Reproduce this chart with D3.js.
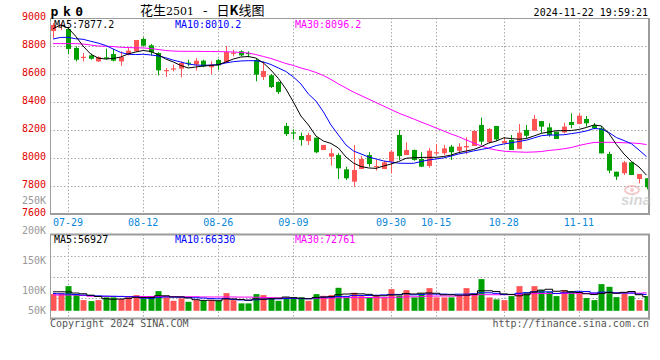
<!DOCTYPE html>
<html><head><meta charset="utf-8">
<script src="https://cdn.jsdelivr.net/npm/d3@7"></script>
<style>body{margin:0;background:#fff}svg{display:block}</style>
</head><body>
<svg id="chart" width="660" height="360"></svg>
<script>
const dates = ["07-25","07-26","07-29","07-30","07-31","08-01","08-02","08-05","08-06","08-07","08-08","08-09","08-12","08-13","08-14","08-15","08-16","08-19","08-20","08-21","08-22","08-23","08-26","08-27","08-28","08-29","08-30","09-02","09-03","09-04","09-05","09-06","09-09","09-10","09-11","09-12","09-13","09-18","09-19","09-20","09-23","09-24","09-25","09-26","09-27","09-30","10-08","10-09","10-10","10-11","10-14","10-15","10-16","10-17","10-18","10-21","10-22","10-23","10-24","10-25","10-28","10-29","10-30","10-31","11-01","11-04","11-05","11-06","11-07","11-08","11-11","11-12","11-13","11-14","11-15","11-18","11-19","11-20","11-21","11-22"];
const opens = [8907,8948,8921,8786,8719,8733,8690,8719,8743,8690,8743,8762,8850,8805,8750,8624,8636,8638,8681,8667,8695,8648,8700,8679,8745,8762,8750,8700,8579,8591,8543,8229,8183,8157,8121,8145,8057,8010,8021,7919,7831,7921,8021,7940,7921,7974,8164,8021,8057,7993,7943,8038,8034,8081,8052,8076,8086,8236,8112,8229,8105,8129,8064,8200,8195,8264,8219,8188,8183,8257,8243,8279,8236,8212,8029,7902,7891,7969,7850,7855];
const highs = [8964,8966,8929,8798,8750,8745,8726,8781,8779,8762,8791,8843,8862,8814,8755,8643,8667,8690,8702,8714,8702,8690,8709,8800,8774,8769,8762,8707,8690,8600,8548,8250,8205,8181,8181,8145,8093,8069,8034,7938,8093,8014,8041,7986,7979,8057,8200,8112,8060,8041,8071,8100,8093,8093,8105,8148,8200,8288,8214,8229,8148,8164,8243,8236,8307,8264,8248,8188,8252,8319,8319,8300,8250,8229,8045,7902,7979,7969,7886,7855];
const lows = [8857,8914,8743,8690,8690,8702,8686,8702,8690,8659,8733,8762,8798,8733,8590,8579,8619,8576,8655,8624,8648,8600,8629,8679,8726,8726,8719,8548,8557,8500,8457,8157,8133,8088,8093,8034,8057,7945,7850,7843,7795,7921,7938,7910,7921,7891,7986,8021,7980,7935,7931,8021,8021,7986,8034,8026,8086,8093,8105,8121,8105,8057,8064,8140,8195,8176,8152,8136,8176,8212,8243,8224,8205,8033,7891,7843,7879,7879,7819,7776];
const closes = [8950,8952,8779,8702,8723,8709,8721,8709,8695,8721,8767,8843,8802,8755,8626,8628,8640,8679,8678,8695,8655,8667,8662,8757,8752,8733,8745,8595,8621,8507,8471,8171,8180,8129,8164,8041,8093,8034,7926,7855,7914,7993,7957,7943,7969,8045,8014,8057,7986,7938,8052,8041,8069,8041,8081,8086,8193,8117,8207,8133,8121,8057,8181,8159,8279,8224,8164,8136,8224,8236,8302,8248,8212,8033,7910,7867,7969,7879,7886,7791];
const ma5 = [8923,8950,8929,8871,8800,8743,8714,8707,8711,8721,8743,8757,8768,8761,8738,8707,8686,8661,8643,8650,8657,8661,8666,8686,8707,8721,8725,8714,8679,8629,8568,8493,8400,8300,8236,8157,8121,8104,8071,8007,7964,7939,7929,7926,7943,7957,7975,7998,8002,8004,8005,8005,8011,8021,8039,8050,8061,8081,8107,8121,8144,8139,8134,8139,8157,8176,8186,8195,8195,8196,8204,8218,8236,8229,8175,8096,8029,7975,7936,7877];
const ma10 = [8850,8861,8862,8852,8848,8834,8821,8804,8779,8754,8741,8739,8741,8736,8729,8716,8699,8686,8671,8664,8662,8664,8666,8679,8688,8693,8695,8695,8686,8668,8643,8618,8579,8529,8457,8407,8329,8236,8164,8093,8050,8029,8007,7993,7979,7971,7963,7962,7962,7975,7986,7993,8001,8014,8029,8039,8051,8061,8071,8089,8100,8109,8118,8127,8143,8159,8164,8164,8166,8174,8182,8193,8211,8207,8182,8146,8125,8102,8057,8010];
const ma30 = [8817,8817,8817,8817,8814,8807,8800,8798,8796,8791,8789,8787,8786,8782,8775,8768,8764,8762,8762,8762,8761,8761,8760,8759,8757,8754,8750,8739,8725,8711,8693,8675,8661,8643,8629,8611,8589,8561,8529,8500,8471,8446,8421,8396,8371,8346,8321,8300,8279,8257,8236,8214,8193,8171,8152,8129,8107,8086,8068,8057,8049,8045,8043,8041,8043,8046,8054,8059,8066,8075,8089,8101,8111,8112,8112,8111,8109,8107,8104,8096];
const volumes = [67600,70500,100000,63600,43300,39300,43300,54300,54300,47400,54300,63600,50200,56700,79800,54300,40500,50200,36500,43300,40500,43300,40500,71700,43300,30000,30000,67600,63600,52700,40500,54300,54300,54300,40500,67600,60800,63600,93200,54300,72900,59500,54300,63600,54300,87900,60800,83800,54300,70500,91900,54300,54300,54300,60800,91900,70500,128400,54300,46200,43300,59500,100000,75700,100000,83800,77000,59500,83800,79800,70500,51400,43300,108100,97200,55500,70500,59500,43300,59500];
const volMa5 = [77000,77000,76500,72000,69000,63300,57900,48800,46900,47700,50700,54800,54000,54400,60900,60900,56300,56300,52300,45000,42200,42800,40800,47900,47900,45800,43100,48500,46900,48800,50900,55700,53100,51200,48800,54200,55500,57400,65100,67900,69000,68700,66800,60900,60900,63900,64200,70100,68200,71500,72300,71000,65100,65100,63100,63100,66400,81200,81200,78300,68500,66300,60700,64900,75700,83800,87300,79200,80800,76800,74100,69000,65800,70600,74100,71100,74900,78200,65200,56927];
const volMa10 = [70000,69000,68000,66000,64000,62000,60500,59500,59000,58400,57000,56300,51400,50700,54300,55800,55500,55100,53400,52900,51600,49500,48600,50100,46400,44000,42900,44700,47400,48300,48300,49400,50800,49100,48800,52500,55600,55200,58200,58300,61600,62100,62100,63000,64400,66400,66400,68500,64600,66200,68100,67600,67600,66600,67300,67700,68700,73100,73100,70700,65800,66400,70900,73100,77000,76200,76800,69900,72900,76200,79000,78200,72500,75700,75400,72600,72000,72000,67900,66330];
const volMa30 = [64000,64000,64000,64000,62000,59000,58500,58500,58000,58000,58000,58000,58000,58000,58000,57500,57500,57000,57000,57000,56000,56000,56000,56000,56000,55500,55500,55000,54000,53200,52300,51800,50200,49900,49800,50800,51400,51700,53000,53200,53800,53700,53800,54100,53200,54300,55000,56100,56700,57600,59300,59700,60200,59600,60200,62200,63600,65600,65300,65100,65200,65300,66900,67600,69600,70100,70600,70500,70200,71000,71000,70700,70300,71800,73200,72200,72500,71700,71300,72761];
const priceTicks = [9000,8800,8600,8400,8200,8000,7800,7600];
const dateTicks = ["07-29","08-12","08-26","09-09","09-30","10-15","10-28","11-11"];
const volTickValues = [250000,200000,150000,100000,50000];
const volTickLabels = ["250K","200K","150K","100K","50K"];
const priceMaLabels = ["MA5:7877.2","MA10:8010.2","MA30:8096.2"];
const volMaLabels = ["MA5:56927","MA10:66330","MA30:72761"];

const RED = "#ff5555", GREEN = "#00a000", GRID = "#a8a8a8", FRAME = "#9c9c9c";
const MONO = "'DejaVu Sans Mono', monospace";
const svg = d3.select("#chart");
const L = 50, R = 649, PT = 18, PB = 214, VT = 234.5, VB = 318.5;

const x = d3.scalePoint().domain(dates).range([53, 646.5]);
const y = d3.scaleLinear().domain([7600, 9000]).range([PB, PT]);
const vy = d3.scaleLinear().domain([0, 310000]).range([310.8, 234.3]);
const vLabelY = d3.scaleLinear().domain([100000, 250000]).range([290.5, 200]);

const defs = svg.append("defs");
defs.append("clipPath").attr("id","cp").append("rect").attr("x",L).attr("y",PT).attr("width",R-L).attr("height",PB-PT);
defs.append("clipPath").attr("id","cv").append("rect").attr("x",L).attr("y",VT).attr("width",R-L).attr("height",VB-VT);

const g = svg.append("g");
g.selectAll(".hg").data(priceTicks.slice(1,-1)).join("line")
  .attr("x1",L).attr("x2",R).attr("y1",d=>Math.round(y(d))+0.5).attr("y2",d=>Math.round(y(d))+0.5)
  .attr("stroke",GRID).attr("stroke-dasharray","1.5,2");
g.selectAll(".vg").data(dateTicks).join("line")
  .attr("x1",d=>Math.round(x(d))+0.5).attr("x2",d=>Math.round(x(d))+0.5).attr("y1",PT).attr("y2",PB)
  .attr("stroke",GRID).attr("stroke-dasharray","1.5,2");
const vgrid = d3.range(1,4).map(i => VT + (VB-VT)*i/4);
g.selectAll(".hvg").data(vgrid).join("line")
  .attr("x1",L).attr("x2",R).attr("y1",d=>Math.round(d)+0.5).attr("y2",d=>Math.round(d)+0.5)
  .attr("stroke",GRID).attr("stroke-dasharray","1.5,2");
g.selectAll(".vvg").data(dateTicks).join("line")
  .attr("x1",d=>Math.round(x(d))+0.5).attr("x2",d=>Math.round(x(d))+0.5).attr("y1",VT).attr("y2",VB)
  .attr("stroke",GRID).attr("stroke-dasharray","1.5,2");

const cg = svg.append("g").attr("clip-path","url(#cp)");
const idx = d3.range(dates.length);
const col = i => closes[i] >= opens[i] ? RED : GREEN;
cg.selectAll(".wick").data(idx).join("line")
  .attr("x1",i=>Math.round(x(dates[i]))+0.5).attr("x2",i=>Math.round(x(dates[i]))+0.5)
  .attr("y1",i=>y(highs[i])).attr("y2",i=>y(lows[i])).attr("stroke",col).attr("stroke-width",1);
cg.selectAll(".body").data(idx).join("rect")
  .attr("x",i=>Math.round(x(dates[i]))-2.5+0.5).attr("width",5)
  .attr("y",i=>y(Math.max(opens[i],closes[i])))
  .attr("height",i=>Math.max(1.2, Math.abs(y(opens[i])-y(closes[i]))))
  .attr("fill",col);

const line = arr => d3.line().x((d,i)=>x(dates[i])).y(d=>y(d))(arr);
cg.append("path").attr("d",line(ma30)).attr("fill","none").attr("stroke","#ff00ff").attr("stroke-width",1);
cg.append("path").attr("d",line(ma10)).attr("fill","none").attr("stroke","#0000ff").attr("stroke-width",1);
cg.append("path").attr("d",line(ma5)).attr("fill","none").attr("stroke","#000").attr("stroke-width",1);

const vg = svg.append("g").attr("clip-path","url(#cv)");
vg.selectAll(".vb").data(idx).join("rect")
  .attr("x",i=>Math.round(x(dates[i]))-3+0.5).attr("width",6)
  .attr("y",i=>vy(volumes[i])).attr("height",i=>vy(0)-vy(volumes[i]))
  .attr("fill",col);
const vline = arr => d3.line().curve(d3.curveStep).x((d,i)=>x(dates[i])).y(d=>vy(d))(arr);
vg.append("path").attr("d",vline(volMa30)).attr("fill","none").attr("stroke","#ff00ff").attr("stroke-width",1);
vg.append("path").attr("d",vline(volMa10)).attr("fill","none").attr("stroke","#0000ff").attr("stroke-width",1);
vg.append("path").attr("d",vline(volMa5)).attr("fill","none").attr("stroke","#000").attr("stroke-width",1);

const fr = svg.append("g").attr("stroke",FRAME).attr("fill","none");
fr.append("line").attr("x1",L).attr("x2",R+1).attr("y1",PT+0.5).attr("y2",PT+0.5);
fr.append("line").attr("x1",L+0.5).attr("x2",L+0.5).attr("y1",PT).attr("y2",PB+1);
fr.append("line").attr("x1",R).attr("x2",R).attr("y1",PT).attr("y2",PB+1).attr("stroke-width",2);
fr.append("line").attr("x1",L).attr("x2",R+1).attr("y1",PB).attr("y2",PB).attr("stroke-width",2);
fr.append("line").attr("x1",L).attr("x2",R+1).attr("y1",VT).attr("y2",VT).attr("stroke-width",2);
fr.append("line").attr("x1",L+0.5).attr("x2",L+0.5).attr("y1",VT).attr("y2",VB+1);
fr.append("line").attr("x1",R).attr("x2",R).attr("y1",VT).attr("y2",VB+1).attr("stroke-width",2);
fr.append("line").attr("x1",L).attr("x2",R+1).attr("y1",VB).attr("y2",VB).attr("stroke-width",2);

const wm = svg.append("g").attr("opacity",0.55);
wm.append("ellipse").attr("cx",632).attr("cy",190).attr("rx",7).attr("ry",4).attr("fill","none").attr("stroke","#f0a0a0").attr("stroke-width",2);
wm.append("circle").attr("cx",632).attr("cy",190).attr("r",2).attr("fill","#f0a0a0");
wm.append("text").attr("x",636).attr("y",205).attr("text-anchor","middle").attr("font-family","Arial, 'Liberation Sans', sans-serif")
  .attr("font-style","italic").attr("font-weight","bold").attr("font-size",15).attr("fill","#b8b8b8").text("sina");

const t = svg.append("g").attr("font-family",MONO).attr("font-size",10);
t.selectAll(".pl").data(priceTicks).join("text")
  .attr("x",46).attr("y",d=>y(d) + (d===9000? 1.5 : 2)).attr("text-anchor","end").attr("fill","#e00000").text(d=>d);
t.selectAll(".vl").data(volTickValues).join("text")
  .attr("x",46).attr("y",(d)=>Math.min(vLabelY(d),310)+3.5).attr("text-anchor","end").attr("fill","#999").text((d,i)=>volTickLabels[i]);
t.selectAll(".dl").data(dateTicks).join("text")
  .attr("x",d=>x(d)).attr("y",225.5).attr("text-anchor","middle").attr("fill","#0a88d8").text(d=>d);
const maColors = ["#000","#0000ff","#ff00ff"], maX = [54,175,295];
t.selectAll(".pm").data(priceMaLabels).join("text").attr("x",(d,i)=>maX[i]).attr("y",27.5).attr("fill",(d,i)=>maColors[i]).text(d=>d);
t.selectAll(".vm").data(volMaLabels).join("text").attr("x",(d,i)=>maX[i]).attr("y",242.5).attr("fill",(d,i)=>maColors[i]).text(d=>d);
t.append("text").attr("x",648).attr("y",16).attr("text-anchor","end").attr("fill","#000").text("2024-11-22 19:59:21");
t.append("text").attr("x",50).attr("y",327).attr("fill","#555").text("Copyright 2024 SINA.COM");
t.append("text").attr("x",649).attr("y",327).attr("text-anchor","end").attr("fill","#555").text("http://finance.sina.com.cn");
svg.append("text").attr("x",50.5).attr("y",15.5).attr("font-family",MONO).attr("font-weight","bold").attr("font-size",13)
  .attr("letter-spacing","4.6px").attr("fill","#000").text("pk0");
const title = svg.append("text").attr("x",140).attr("y",15).attr("font-family","'Noto Sans CJK SC', sans-serif")
  .attr("font-size",13).attr("fill","#000");
title.append("tspan").text("花生");
title.append("tspan").attr("font-family","'DejaVu Serif', serif").attr("font-size",11).text("2501");
title.append("tspan").attr("dx",9).text("-");
title.append("tspan").attr("dx",9).text("日");
title.append("tspan").attr("font-weight","bold").text("K");
title.append("tspan").text("线图");
</script>
</body></html>
